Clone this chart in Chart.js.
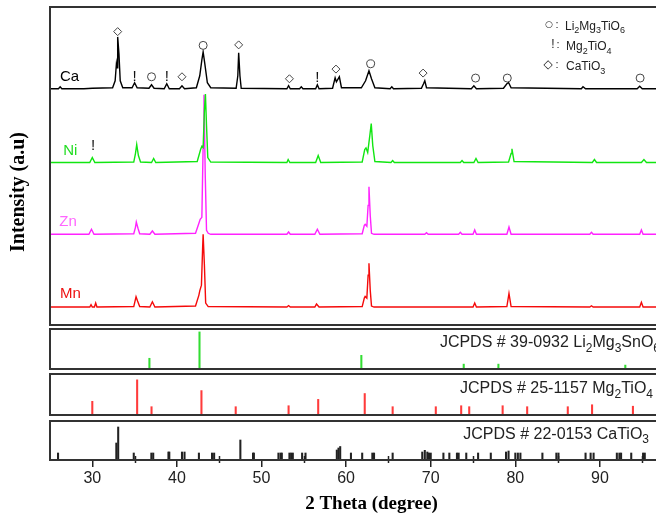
<!DOCTYPE html>
<html>
<head>
<meta charset="utf-8">
<script src="https://cdn.jsdelivr.net/npm/chart.js@4.4.1/dist/chart.umd.min.js"></script>
<style>
  html, body { margin: 0; padding: 0; background: #fff; }
  body { width: 656px; height: 515px; overflow: hidden; position: relative; }
  canvas { position: absolute; left: 0; }
</style>
</head>
<body>
<canvas id="main" width="710" height="330" style="top:0"></canvas>
<canvas id="refLi" width="710" height="45" style="top:327px"></canvas>
<canvas id="refMg" width="710" height="46" style="top:372px"></canvas>
<canvas id="refCa" width="710" height="96" style="top:419px"></canvas>
<script>
// 2 theta range and labelled ticks
const thetaMin = 25;
const thetaMax = 101;
const tickValues = [30, 40, 50, 60, 70, 80, 90];
const minorTickValues = [35, 45, 55, 65, 75, 85, 95];

// measured patterns, [2theta, intensity] (intensity includes the vertical offset of each curve)
const caPattern = [
  [25, 237], [26.0, 237], [26.2, 239], [26.4, 237], [29, 237], [30.0, 237.5],
  [32.4, 238], [32.7, 245], [32.85, 262], [32.92, 258], [33.0, 289], [33.15, 272], [33.3, 245], [33.6, 238],
  [34.7, 238], [35.0, 243], [35.3, 238], [36.7, 237.5], [37.0, 241], [37.3, 237.5],
  [38.5, 237], [38.8, 242], [39.1, 237], [40.3, 237], [40.6, 240], [40.9, 237],
  [42.3, 238], [42.7, 250], [42.95, 266], [43.1, 274], [43.3, 262], [43.6, 243], [44.0, 238],
  [47.0, 237.5], [47.2, 250], [47.3, 273], [47.45, 250], [47.6, 237.5],
  [53.0, 237], [53.2, 240], [53.4, 237], [54.5, 237], [54.7, 239], [54.9, 237],
  [56.4, 237], [56.6, 241], [56.8, 237],
  [58.4, 237.5], [58.7, 248], [58.85, 244], [59.2, 249], [59.45, 238],
  [61.8, 238], [62.3, 245], [62.7, 255], [63.0, 247], [63.4, 238],
  [65.2, 237], [65.4, 239], [65.6, 237],
  [68.9, 237.5], [69.15, 242], [69.3, 245], [69.5, 238],
  [74.8, 237], [75.1, 240], [75.4, 237],
  [78.6, 237.5], [79.0, 242], [79.2, 243.3], [79.5, 238],
  [87.8, 237], [88.0, 239], [88.3, 237], [94.4, 237], [94.7, 239.5], [95.0, 237], [101, 237]
];
const niPattern = [
  [25, 163], [29.7, 163], [30.0, 168], [30.3, 163],
  [34.9, 163.5], [35.1, 172], [35.25, 181], [35.45, 170], [35.7, 163.5],
  [37.0, 163], [37.25, 167], [37.5, 163],
  [42.4, 164], [42.8, 176], [42.95, 179.3], [43.1, 178], [43.25, 215], [43.37, 231.7], [43.5, 200], [43.65, 168], [44.0, 163.5],
  [53.0, 163], [53.15, 166], [53.35, 163], [56.4, 163], [56.7, 170], [57.0, 163],
  [61.9, 163.5], [62.2, 176], [62.35, 177.7], [62.55, 173], [62.8, 190], [62.97, 202], [63.15, 180], [63.4, 164],
  [65.3, 163], [65.5, 165], [65.7, 163], [73.5, 163], [73.7, 165], [73.9, 163],
  [75.1, 163], [75.35, 167], [75.6, 163],
  [79.2, 163.5], [79.5, 172], [79.6, 176.7], [79.85, 164],
  [89.1, 163], [89.35, 166], [89.6, 163], [94.9, 163], [95.2, 166], [95.5, 163], [101, 163]
];
const znPattern = [
  [25, 91], [29.6, 91], [29.9, 96], [30.2, 91],
  [34.9, 91.5], [35.1, 98], [35.2, 103.3], [35.4, 97], [35.6, 91.5],
  [36.8, 91], [37.1, 94.3], [37.4, 91],
  [42.2, 92], [42.6, 102], [42.75, 106], [42.95, 108], [43.1, 180], [43.2, 231], [43.35, 150], [43.5, 95], [43.7, 92], [44.0, 91],
  [53.0, 91], [53.2, 93.3], [53.4, 91], [56.3, 91], [56.6, 96], [56.9, 91],
  [61.9, 91.5], [62.15, 100], [62.25, 101], [62.45, 99], [62.6, 120], [62.7, 138.7], [62.85, 110], [63.0, 92], [63.3, 91],
  [69.3, 91], [69.5, 92.5], [69.7, 91], [73.3, 91], [73.5, 93], [73.7, 91],
  [75.0, 91], [75.2, 95.3], [75.4, 91], [79.0, 91], [79.25, 98.3], [79.5, 91],
  [88.8, 91], [89.0, 93], [89.2, 91], [94.7, 91], [94.9, 95.3], [95.1, 91], [101, 91]
];
const mnPattern = [
  [25, 18], [29.7, 18], [29.85, 20.3], [30.0, 18], [30.25, 18], [30.4, 22], [30.55, 18],
  [34.9, 18.5], [35.05, 24], [35.17, 28.3], [35.35, 24], [35.6, 18.5],
  [36.8, 18], [37.1, 23.3], [37.4, 18],
  [42.2, 19], [42.6, 30], [42.7, 34.3], [42.9, 40], [43.05, 80], [43.1, 91], [43.25, 60], [43.4, 22], [43.7, 18.5],
  [53.0, 18], [53.2, 19.5], [53.4, 18], [56.3, 18], [56.5, 21], [56.8, 18],
  [61.9, 18.5], [62.15, 27], [62.25, 28.7], [62.45, 27], [62.6, 50], [62.7, 62], [62.85, 35], [63.0, 19], [63.3, 18],
  [75.0, 18], [75.2, 22], [75.4, 18], [79.0, 18.5], [79.25, 31.7], [79.5, 18.5],
  [88.8, 18], [89.0, 19.3], [89.2, 18], [94.7, 18], [94.9, 22.7], [95.1, 18], [101, 18]
];

// sample names, placed at a 2theta / intensity position
const sampleNames = ['Ca', 'Ni', 'Zn', 'Mn'];
const sample2theta = [26.18, 26.57, 26.1, 26.18];
const sampleIntensity = [249.3, 174.7, 103.5, 31.5];

// phase markers above the peaks
const circle2theta = [37.0, 43.1, 62.9, 75.3, 79.05, 94.75];
const circleIntensity = [249, 280.5, 262, 247.7, 247.7, 247.7];
const diamond2theta = [33.0, 40.6, 47.3, 53.3, 58.8, 69.1];
const diamondIntensity = [294.3, 249, 281, 247, 256.7, 252.7];
const bang2theta = [35.0, 38.8, 56.6, 30.1];
const bangIntensity = [249, 249, 248, 180];

// JCPDS reference sticks
const li2theta = [36.75, 42.67, 61.8, 73.9, 78.0, 93.0];
const liHeight = [11, 38, 14, 5, 5, 4];
const mg2theta = [30.0, 35.3, 37.0, 42.9, 46.95, 53.2, 56.7, 62.2, 65.5, 70.6, 73.6, 74.55, 78.5, 81.4, 86.2, 89.07, 93.9];
const mgHeight = [14, 36, 8.5, 25, 8.5, 9.5, 16, 22, 8.5, 8.5, 9.5, 8.5, 9.5, 8.5, 8.5, 10.5, 9];
const ca2theta = [25.95, 32.84, 33.06, 34.9, 36.98, 37.2, 39.0, 39.1, 40.6, 40.9, 42.6, 44.15, 44.4, 47.5, 49.0, 49.1,
  52.0, 52.25, 52.4, 53.3, 53.5, 53.7, 54.8, 55.2, 58.9, 59.1, 59.3, 60.57, 61.9, 63.1, 63.3, 65.5,
  69.0, 69.3, 69.6, 69.8, 70.0, 71.5, 72.2, 73.1, 73.3, 74.2, 75.6, 77.1, 78.9, 79.2, 80.0, 80.3, 80.6,
  83.2, 84.85, 85.1, 88.3, 88.9, 89.25, 92.0, 92.3, 92.5, 93.7, 95.1, 95.3];
const caHeight = [7, 17, 33, 7, 7, 7, 8, 8, 8, 8, 7, 7, 7, 20, 7, 7,
  7, 7, 7, 7, 7, 7, 7, 7, 10, 12, 13.5, 7, 7, 7, 7, 7,
  8, 9.7, 8, 7, 7, 7, 7, 7, 7, 7, 7, 7, 8, 9, 7, 7, 7,
  7, 7, 7, 7, 7, 7, 7, 7, 7, 7, 7, 7];

const SANS = '"Liberation Sans", Arial, sans-serif';
const SERIF = '"Liberation Serif", "Times New Roman", serif';
const AXIS_LEFT = 50;
const PAD_RIGHT = 17;

function toXY(pairs) {
  return pairs.map(p => ({ x: p[0], y: p[1] }));
}
function zipXY(xs, ys) {
  return xs.map((x, i) => ({ x: x, y: ys[i] }));
}

// text with subscripts: parts = [[text, isSub], ...]
function drawRich(ctx, parts, x, y, size, align) {
  const subSize = Math.round(size * 0.72);
  let total = 0;
  parts.forEach(p => {
    ctx.font = (p[1] ? subSize : size) + 'px ' + SANS;
    total += ctx.measureText(p[0]).width;
  });
  let cx = align === 'right' ? x - total : x;
  ctx.textAlign = 'left';
  ctx.textBaseline = 'alphabetic';
  parts.forEach(p => {
    ctx.font = (p[1] ? subSize : size) + 'px ' + SANS;
    ctx.fillText(p[0], cx, p[1] ? y + size * 0.3 : y);
    cx += ctx.measureText(p[0]).width;
  });
}

const frame = {
  id: 'frame',
  afterDraw(chart) {
    const a = chart.chartArea;
    const ctx = chart.ctx;
    ctx.save();
    ctx.strokeStyle = '#333';
    ctx.lineWidth = 2;
    ctx.strokeRect(a.left, a.top, a.right - a.left, a.bottom - a.top);
    ctx.restore();
  }
};

function baseX(showAxis) {
  return {
    type: 'linear', min: thetaMin, max: thetaMax, offset: false,
    display: showAxis
  };
}

// main panel
const annotations = {
  id: 'annotations',
  afterDatasetsDraw(chart) {
    const ctx = chart.ctx;
    const xs = chart.scales.x, ys = chart.scales.y;
    const colors = ['#000', '#22dd22', '#ff66ff', '#ee1111'];
    ctx.save();
    ctx.textBaseline = 'middle';
    ctx.textAlign = 'left';
    ctx.font = '15px ' + SANS;
    sampleNames.forEach((n, i) => {
      ctx.fillStyle = colors[i];
      ctx.fillText(n, xs.getPixelForValue(sample2theta[i]), ys.getPixelForValue(sampleIntensity[i]));
    });
    ctx.fillStyle = '#111';
    ctx.textAlign = 'center';
    ctx.font = '15px ' + SANS;
    bang2theta.forEach((t, i) => {
      ctx.fillText('!', xs.getPixelForValue(t), ys.getPixelForValue(bangIntensity[i]));
    });

    // phase legend
    const lx = chart.chartArea.left;
    ctx.fillStyle = '#222';
    ctx.font = '9px "DejaVu Sans", sans-serif';
    ctx.textAlign = 'center';
    ctx.fillText('\u25CB', lx + 499, 25);
    ctx.font = '12px ' + SANS;
    ctx.fillText('!', lx + 503, 45);
    ctx.font = '12px "DejaVu Sans", sans-serif';
    ctx.fillText('\u25C7', lx + 498, 65);
    ctx.font = '11px ' + SANS;
    ctx.fillText(':', lx + 507, 25);
    ctx.fillText(':', lx + 508, 45);
    ctx.fillText(':', lx + 507, 65);
    ctx.fillStyle = '#222';
    drawRich(ctx, [['Li', 0], ['2', 1], ['Mg', 0], ['3', 1], ['TiO', 0], ['6', 1]], lx + 515, 29.5, 12, 'left');
    drawRich(ctx, [['Mg', 0], ['2', 1], ['TiO', 0], ['4', 1]], lx + 516, 50, 12, 'left');
    drawRich(ctx, [['CaTiO', 0], ['3', 1]], lx + 516, 70, 12, 'left');

    // y title
    ctx.save();
    ctx.translate(19, 192);
    ctx.rotate(-Math.PI / 2);
    ctx.font = 'bold 20px ' + SERIF;
    ctx.fillStyle = '#000';
    ctx.textAlign = 'center';
    ctx.textBaseline = 'middle';
    ctx.fillText('Intensity (a.u)', 0, 0);
    ctx.restore();
    ctx.restore();
  }
};

function lineSet(pairs, color) {
  return {
    type: 'line', data: toXY(pairs), borderColor: color, borderWidth: 1.4,
    pointRadius: 0, tension: 0, fill: false
  };
}
function markerSet(xs, ys, style) {
  return {
    type: 'scatter', data: zipXY(xs, ys), pointStyle: style, pointRadius: 4,
    pointBorderColor: '#444', pointBackgroundColor: '#fff', pointBorderWidth: 1, showLine: false
  };
}

new Chart(document.getElementById('main'), {
  type: 'line',
  data: {
    datasets: [
      markerSet(circle2theta, circleIntensity, 'circle'),
      markerSet(diamond2theta, diamondIntensity, 'rectRot'),
      lineSet(caPattern, '#000000'),
      lineSet(niPattern, '#11e611'),
      lineSet(znPattern, '#ff22ff'),
      lineSet(mnPattern, '#f50a0a')
    ]
  },
  options: {
    responsive: false, animation: false,
    layout: { padding: { top: 7, bottom: 4, left: 0, right: PAD_RIGHT } },
    plugins: { legend: { display: false }, tooltip: { enabled: false } },
    scales: {
      x: baseX(false),
      y: {
        type: 'linear', min: 0, max: 319,
        ticks: { display: false }, grid: { display: false }, border: { display: false },
        afterFit(axis) { axis.width = AXIS_LEFT; }
      }
    }
  },
  plugins: [annotations, frame]
});

// reference stick panels
function stickChart(id, xs, hs, color, ymax, parts, textRight, textBase, isLast) {
  const label = {
    id: 'label' + id,
    afterDraw(chart) {
      const ctx = chart.ctx;
      ctx.save();
      ctx.fillStyle = '#222';
      drawRich(ctx, parts, textRight, textBase, 16, 'right');
      ctx.restore();
    }
  };
  const minorTicks = {
    id: 'minor' + id,
    afterDraw(chart) {
      if (!isLast) return;
      const ctx = chart.ctx;
      const xsc = chart.scales.x;
      const yb = chart.chartArea.bottom;
      ctx.save();
      ctx.strokeStyle = '#222';
      ctx.lineWidth = 1.5;
      minorTickValues.forEach(v => {
        const px = Math.round(xsc.getPixelForValue(v)) + 0.5;
        ctx.beginPath();
        ctx.moveTo(px, yb - 4);
        ctx.lineTo(px, yb + 3);
        ctx.stroke();
      });
      ctx.restore();
    }
  };
  const xScale = baseX(true);
  if (isLast) {
    xScale.afterBuildTicks = axis => { axis.ticks = tickValues.map(v => ({ value: v })); };
    xScale.afterFit = axis => { axis.height = 55; };
    xScale.ticks = { color: '#222', padding: 2, font: { family: SANS, size: 16 } };
    xScale.grid = { drawOnChartArea: false, drawTicks: true, tickLength: 7, color: '#222', lineWidth: 1.5, offset: false };
    xScale.border = { display: true, color: '#333', width: 2 };
    xScale.title = {
      display: true, text: '2 Theta (degree)', color: '#000',
      font: { family: SERIF, size: 19, weight: 'bold' }, padding: { top: 2, bottom: 0 }
    };
  } else {
    xScale.display = false;
  }
  return new Chart(document.getElementById(id), {
    type: 'bar',
    data: {
      datasets: [{
        data: zipXY(xs, hs), backgroundColor: color, borderWidth: 0,
        barThickness: 1.4, grouped: false
      }]
    },
    options: {
      responsive: false, animation: false,
      layout: { padding: { top: 2, bottom: isLast ? 0 : 3, left: AXIS_LEFT, right: PAD_RIGHT } },
      plugins: { legend: { display: false }, tooltip: { enabled: false } },
      scales: {
        x: xScale,
        y: { type: 'linear', min: 0, max: ymax, display: false }
      }
    },
    plugins: [label, minorTicks, frame]
  });
}

stickChart('refLi', li2theta, liHeight, '#33dd33', 41,
  [['JCPDS # 39-0932 Li', 0], ['2', 1], ['Mg', 0], ['3', 1], ['SnO', 0], ['6', 1]], 660, 20, false);
stickChart('refMg', mg2theta, mgHeight, '#ff3b3b', 42,
  [['JCPDS # 25-1157 Mg', 0], ['2', 1], ['TiO', 0], ['4', 1]], 653, 21, false);
stickChart('refCa', ca2theta, caHeight, '#222222', 39,
  [['JCPDS # 22-0153 CaTiO', 0], ['3', 1]], 649, 19.5, true);
</script>
</body>
</html>
